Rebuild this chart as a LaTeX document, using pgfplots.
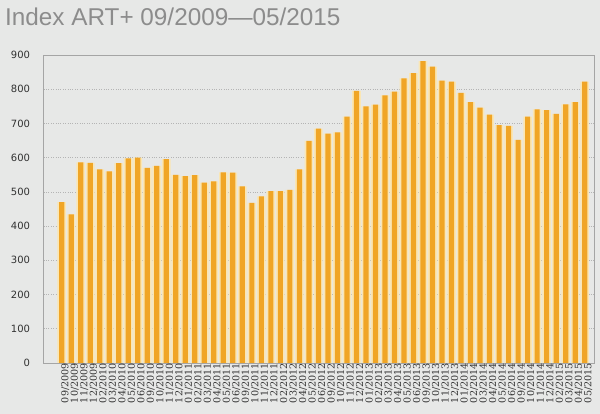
\documentclass[border=0pt]{standalone}
\usepackage{pgfplots}
\pgfplotsset{compat=1.18}
\usepackage{fontspec}
\setmainfont{Liberation Sans}
\newfontfamily\ytickfont{DejaVu Sans}
\newfontfamily\xtickfont{DejaVu Serif}
\definecolor{bg}{RGB}{231,232,231}
\definecolor{barorange}{RGB}{240,165,38}
\definecolor{barpale}{RGB}{250,230,180}
\definecolor{gridgray}{RGB}{180,180,180}
\definecolor{axgray}{RGB}{165,165,165}
\definecolor{titlegray}{RGB}{140,140,140}
\definecolor{ticktext}{RGB}{50,50,50}
\begin{document}
\begin{tikzpicture}
\useasboundingbox (0,0) rectangle (600pt,414pt);
\fill[bg] (0,0) rectangle (600pt,414pt);
\node[anchor=base west, inner sep=0pt, text=titlegray, font=\fontsize{24.3}{27}\selectfont] at (5pt,388pt) {Index ART+ 09/2009—05/2015};
\begin{axis}[
  at={(43.7pt,51pt)}, anchor=south west,
  scale only axis, width=550.3pt, height=308pt,
  xmin=-1.89, xmax=55.98, ymin=0, ymax=900,
  /pgf/number format/assume math mode=true,
  axis line style={draw=axgray, line width=0.9pt},
  major tick length=0pt,
  ytick={0,100,...,900},
  ymajorgrids, grid style={gridgray, dotted, line width=0.7pt},
  yticklabel style={font=\ytickfont\fontsize{10}{12}\selectfont, text=ticktext, anchor=east, inner sep=0pt, xshift=-13.5pt},
  xtick={0,...,55},
  xticklabels={09/2009,10/2009,11/2009,12/2009,02/2010,03/2010,04/2010,05/2010,06/2010,09/2010,10/2010,11/2010,12/2010,01/2011,02/2011,03/2011,04/2011,05/2011,06/2011,09/2011,10/2011,11/2011,12/2011,02/2012,03/2012,04/2012,05/2012,06/2012,09/2012,10/2012,11/2012,12/2012,01/2013,02/2013,03/2013,04/2013,05/2013,06/2013,09/2013,10/2013,11/2013,12/2013,01/2014,02/2014,03/2014,04/2014,05/2014,06/2014,09/2014,10/2014,11/2014,12/2014,02/2015,03/2015,04/2015,05/2015},
  xticklabel style={font=\xtickfont\fontsize{9.6}{11}\selectfont, text=ticktext, rotate=90, anchor=east, inner sep=0pt, yshift=-3.5pt},
]
\addplot[ybar, bar width=8.6pt, bar shift=0pt, fill=barpale, draw=none] table {
x y
0 470
1 434
2 586
3 585
4 566
5 560
6 584
7 598
8 600
9 570
10 576
11 596
12 550
13 546
14 549
15 527
16 531
17 557
18 556
19 516
20 468
21 487
22 502
23 502
24 506
25 566
26 649
27 685
28 670
29 674
30 720
31 795
32 750
33 755
34 782
35 793
36 832
37 847
38 882
39 866
40 825
41 822
42 789
43 762
44 746
45 726
46 695
47 693
48 652
49 720
50 741
51 739
52 728
53 756
54 762
55 822
};
\addplot[ybar, bar width=5.2pt, bar shift=0pt, fill=barorange, draw=none] table {
x y
0 470
1 434
2 586
3 585
4 566
5 560
6 584
7 598
8 600
9 570
10 576
11 596
12 550
13 546
14 549
15 527
16 531
17 557
18 556
19 516
20 468
21 487
22 502
23 502
24 506
25 566
26 649
27 685
28 670
29 674
30 720
31 795
32 750
33 755
34 782
35 793
36 832
37 847
38 882
39 866
40 825
41 822
42 789
43 762
44 746
45 726
46 695
47 693
48 652
49 720
50 741
51 739
52 728
53 756
54 762
55 822
};
\end{axis}
\end{tikzpicture}
\end{document}
